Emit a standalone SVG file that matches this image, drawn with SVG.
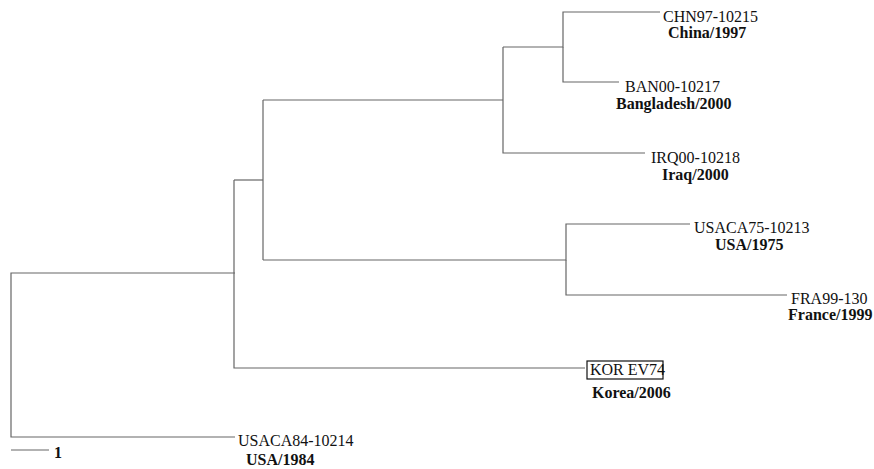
<svg xmlns="http://www.w3.org/2000/svg" width="874" height="469" viewBox="0 0 874 469">
<style>
.br{fill:none;stroke:#666;stroke-width:1.2}
.id{font-family:"Liberation Serif",serif;font-size:16px;fill:#111}
.loc{font-family:"Liberation Serif",serif;font-size:16px;font-weight:bold;fill:#111}
</style>
<rect width="874" height="469" fill="#fff"/>
<g id="connectors">
<path class="br" d="M235,273 H11 V437 H235"/>
<path class="br" d="M234,180 V368 H585"/>
<path class="br" d="M234,180 H263"/>
<path class="br" d="M263,100 V260"/>
<path class="br" d="M263,100 H503"/>
<path class="br" d="M503,47 V153 H645"/>
<path class="br" d="M503,47 H563 V12 H660"/>
<path class="br" d="M563,47 V82 H619"/>
<path class="br" d="M263,260 H566 V224 H690"/>
<path class="br" d="M566,260 V295 H787"/>
<path class="br" d="M11,450 H49"/>
</g>
<g id="CHN97"><text class="id" x="663" y="22">CHN97-10215</text><text class="loc" x="668" y="38">China/1997</text></g>
<g id="BAN00"><text class="id" x="625" y="92">BAN00-10217</text><text class="loc" x="616" y="109">Bangladesh/2000</text></g>
<g id="IRQ00"><text class="id" x="651" y="163">IRQ00-10218</text><text class="loc" x="662" y="180">Iraq/2000</text></g>
<g id="USACA75"><text class="id" x="694" y="233">USACA75-10213</text><text class="loc" x="715" y="250">USA/1975</text></g>
<g id="FRA99"><text class="id" x="791" y="304">FRA99-130</text><text class="loc" x="788" y="320">France/1999</text></g>
<g id="KOR"><rect x="587" y="361" width="76" height="18" fill="none" stroke="#111" stroke-width="1.2"/><text class="id" x="590" y="375">KOR EV74</text><text class="loc" x="592" y="398">Korea/2006</text></g>
<g id="USACA84"><text class="id" x="238" y="446">USACA84-10214</text><text class="loc" x="246" y="465">USA/1984</text></g>
<g id="scale"><text class="loc" x="54" y="458">1</text></g>
</svg>
